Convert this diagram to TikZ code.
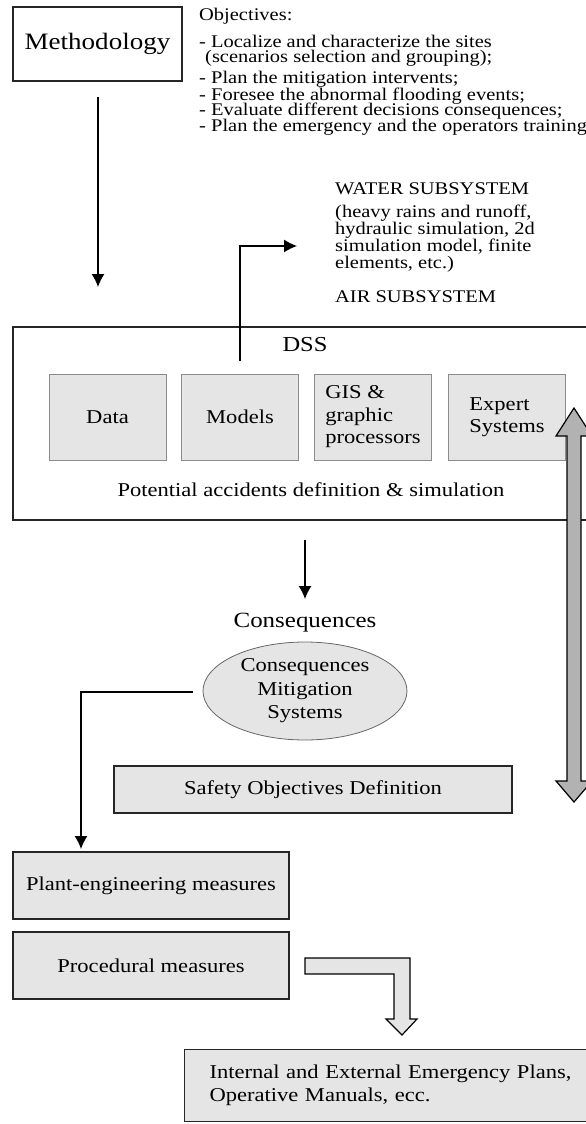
\documentclass[tikz,border=0pt]{standalone}
\usepackage{fontspec}
\setmainfont[FakeStretch=1.15]{Liberation Serif}
\usetikzlibrary{positioning,shapes.geometric,arrows.meta}
\newcommand{\fsz}[2]{\fontsize{#1}{#2}\selectfont}

\begin{document}
\begin{tikzpicture}[
x=1pt, y=-1pt,
box/.style={
  draw=black!85,
  line width=1.2pt,
  fill=black!10,
  inner sep=0pt,
  font=\fsz{19.6}{23}
  },
sub/.style={
  draw=black!45,
  line width=0.9pt,
  fill=black!10,
  minimum width=117pt,
  minimum height=86pt,
  inner sep=0pt,
  align=left,
  font=\fsz{19.6}{22.5}
  },
plain/.style={
  draw=none,
  fill=none,
  inner sep=0pt
  },
objline/.style={
  plain,
  anchor=base west,
  font=\fsz{17.8}{16}
  },
>={Latex[length=13pt,width=13pt]}
]
\useasboundingbox (0,0) rectangle (586,1124);

\node[box, fill=white, minimum width=169pt, minimum height=74pt, font=\fsz{23.5}{24}] (meth) at (97.5,44) {Methodology};
\node[objline] (obj0) at (199,21) {Objectives:};
\node[objline] (obj1) at (199,47.5) {- Localize and characterize the sites};
\node[objline] (obj2) at (205,63) {(scenarios selection and grouping);};
\node[objline] (obj3) at (199,84) {- Plan the mitigation intervents;};
\node[objline] (obj4) at (199,100) {- Foresee the abnormal flooding events;};
\node[objline] (obj5) at (199,115.5) {- Evaluate different decisions consequences;};
\node[objline] (obj6) at (199,131) {- Plan the emergency and the operators training};

\node[objline] (wsub) at (335,194.5) {WATER SUBSYSTEM};
\node[objline] (wl1) at (335,217) {(heavy rains and runoff,};
\node[objline] (wl2) at (335,234.3) {hydraulic simulation, 2d};
\node[objline] (wl3) at (335,251.6) {simulation model, finite};
\node[objline] (wl4) at (335,268.9) {elements, etc.)};
\node[objline] (asub) at (335,302) {AIR SUBSYSTEM};

\node[box, fill=white, minimum width=600pt, minimum height=193pt] (dss) at (313,423.5) {};
\node[plain, font=\fsz{21.3}{22}] (dsslbl) at (305,345) {DSS};
\node[sub] (data) at (107.5,417) {Data};
\node[sub] (models) at (240,417) {Models};
\node[sub] (gis) at (373,417) {GIS \&\\graphic\\processors};
\node[sub] (expert) at (507,417) {Expert\\Systems};
\node[plain, font=\fsz{19.6}{22.5}] (pot) at (311,490) {Potential accidents definition \& simulation};

\coordinate (mbot) at (98,97);
\coordinate (mend) at (98,287);
\coordinate (mtop) at (240,361);
\coordinate (wtip) at (297,246);
\draw[->, line width=1.2pt] (mbot) -- (mend);
\draw[->, line width=1.2pt] (mtop) |- (wtip);

\coordinate (dbot) at (305,540);
\coordinate (ctop) at (305,599);
\draw[->, line width=1.2pt] (dbot) -- (ctop);
\node[plain, font=\fsz{21.7}{22}] (cons) at (305,623) {Consequences};
\node[ellipse, draw=black!60, line width=0.8pt, fill=black!10, minimum width=204pt, minimum height=98pt, inner sep=0pt, align=center, font=\fsz{19.6}{23.5}] (cms) at (305,691) {Consequences\\Mitigation\\Systems};

\node[box, minimum width=398pt, minimum height=47pt] (safe) at (313,789.5) {Safety Objectives Definition};
\node[box, minimum width=276pt, minimum height=67pt] (plant) at (151,885.5) {Plant-engineering measures};
\node[box, minimum width=276pt, minimum height=67pt] (proc) at (151,965.5) {Procedural measures};
\node[box, anchor=north west, minimum width=436pt, minimum height=72pt, text width=386pt, inner xsep=25pt, align=left] (plans) at (184,1049) {Internal and External Emergency Plans,\\Operative Manuals, ecc.};

\coordinate (cleft) at (193,692);
\coordinate (ptop) at (81,849);
\draw[->, line width=1.2pt] (cleft) -| (ptop);

\draw[line width=1.2pt, fill=black!10] (305,958) -- (410,958) -- (410,1019) -- (417,1019) -- (402,1035) -- (386,1019) -- (394,1019) -- (394,974) -- (305,974) -- cycle;
\draw[line width=1.2pt, fill=black!30] (574,408) -- (592,436) -- (581,436) -- (581,781) -- (592,781) -- (574,802) -- (556,781) -- (567,781) -- (567,436) -- (556,436) -- cycle;
\end{tikzpicture}
\end{document}
